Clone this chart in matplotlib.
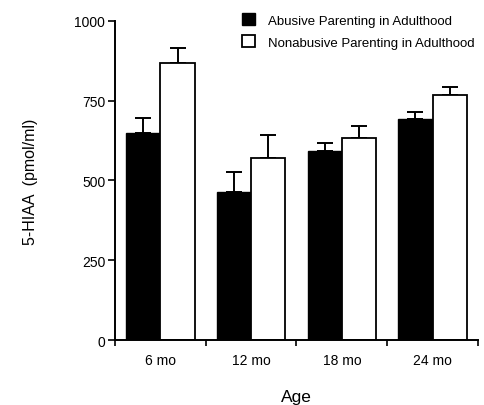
import numpy as np
import matplotlib
matplotlib.use('Agg')
import matplotlib.pyplot as plt

plt.rcParams['font.family'] = ['Liberation Sans', 'DejaVu Sans']

# data
ages = ['6 mo', '12 mo', '18 mo', '24 mo']
abusive = [649, 464, 592, 693]
abusive_err = [47, 64, 25, 21]
nonabusive = [867, 570, 632, 767]
nonabusive_err = [48, 72, 39, 27]

fig = plt.figure(figsize=(4.84, 4.06), dpi=100)
ax = fig.add_axes([0.2376, 0.160, 0.75, 0.786])

x = np.arange(len(ages)) + 0.5
w = 0.378

ax.bar(x - w / 2, abusive, w, color='black', edgecolor='black', linewidth=1.0,
       label='Abusive Parenting in Adulthood', zorder=2)
ax.bar(x + w / 2, nonabusive, w, color='white', edgecolor='black', linewidth=1.3,
       label='Nonabusive Parenting in Adulthood', zorder=2)

# one sided error bars (upwards only)
ax.errorbar(x - w / 2, abusive, yerr=[np.zeros(4), abusive_err], fmt='none',
            ecolor='black', elinewidth=1.4, capsize=6, capthick=1.4, zorder=1)
ax.errorbar(x + w / 2, nonabusive, yerr=[np.zeros(4), nonabusive_err], fmt='none',
            ecolor='black', elinewidth=1.4, capsize=6, capthick=1.4, zorder=1)

ax.set_xlim(0, 4)
ax.set_ylim(0, 1000)
ax.set_yticks([0, 250, 500, 750, 1000])
ax.set_xticks(np.arange(5))
ax.set_xticklabels([])
ax.set_xticks(x, minor=True)
ax.set_xticklabels(ages, minor=True)
ax.tick_params(axis='x', which='minor', length=0, pad=9, labelsize=10)
ax.tick_params(axis='x', which='major', length=4, width=1.2, direction='out')
ax.tick_params(axis='y', length=5, width=1.2, direction='out', labelsize=10, pad=2)

for s in ['top', 'right']:
    ax.spines[s].set_visible(False)
for s in ['left', 'bottom']:
    ax.spines[s].set_linewidth(1.4)

ax.set_xlabel('Age', fontsize=12.5, labelpad=16)
ax.set_ylabel('5-HIAA  (pmol/ml)', fontsize=11.5, labelpad=26)

ax.legend(loc='upper left', bbox_to_anchor=(0.335, 1.04), frameon=False,
          fontsize=9.5, handlelength=1.0, handleheight=1.0, handletextpad=1.0,
          labelspacing=0.65, borderaxespad=0)

fig.savefig('out.png', dpi=100)
